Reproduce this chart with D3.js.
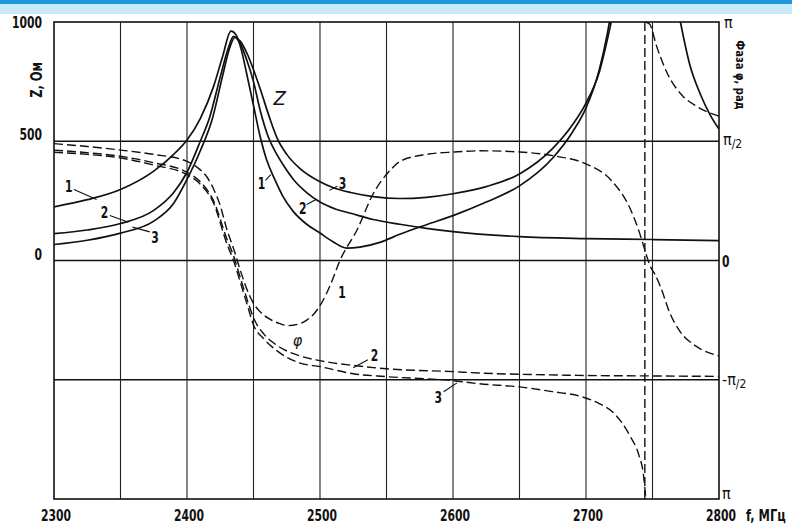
<!DOCTYPE html>
<html><head><meta charset="utf-8">
<script src="https://cdn.jsdelivr.net/npm/d3@7/dist/d3.min.js"></script>
<style>
body{margin:0;background:#fff;}
svg{display:block;}
text{font-family:"DejaVu Sans Condensed","DejaVu Sans",sans-serif;fill:#111;}
</style></head>
<body><svg id="c" width="792" height="525"></svg>
<script>
// ---------- data ----------
const freqTicks = [2300,2400,2500,2600,2700,2800];
const freqGrid = [2350,2400,2450,2500,2550,2600,2650,2700,2750];
const zTickLabels = [[1000,"1000"],[500,"500"],[0,"0"]];
// Z, Ohm  [f MHz, Z]
const z1 = [[2300,225],[2325,255],[2350,298],[2375,375],[2390,445],[2400,505],[2410,595],[2420,730],[2427,860],[2433,962],[2437,945],[2441,880],[2445,780],[2450,650],[2455,520],[2460,420],[2466,340],[2472,270],[2480,205],[2490,152],[2500,115],[2510,78],[2520,52],[2530,56],[2545,76],[2560,110],[2580,150],[2600,188],[2625,245],[2650,313],[2675,430],[2690,540],[2700,640],[2710,800],[2716,950],[2720,1080]];
const z2 = [[2300,113],[2325,128],[2350,155],[2375,210],[2390,285],[2400,370],[2410,500],[2417,600],[2425,770],[2431,890],[2435,940],[2440,910],[2445,840],[2450,750],[2455,630],[2461,520],[2467,450],[2473,395],[2480,340],[2490,285],[2500,245],[2512,215],[2523,198],[2540,172],[2560,152],[2580,135],[2600,121],[2650,100],[2700,92],[2750,88],[2800,83]];
const z3 = [[2300,67],[2325,85],[2350,115],[2375,165],[2390,240],[2400,340],[2410,460],[2419,593],[2427,780],[2432,890],[2436,935],[2440,920],[2445,870],[2450,800],[2455,720],[2462,600],[2468,510],[2475,445],[2485,385],[2500,330],[2510,305],[2523,285],[2540,268],[2560,260],[2580,265],[2600,280],[2625,310],[2650,363],[2675,470],[2690,570],[2700,660],[2710,790],[2717,950],[2722,1080]];
const zRightBranch = [[2766,1150],[2771,1000],[2778,822],[2786,697],[2793,614],[2800,551]];
// phase, in units of pi  [f MHz, phi/pi]
const p1 = [[2300,0.49],[2325,0.478],[2350,0.463],[2375,0.445],[2400,0.416],[2410,0.38],[2415,0.35],[2420,0.30],[2425,0.23],[2430,0.13],[2435,0.05],[2440,-0.04],[2445,-0.12],[2450,-0.18],[2455,-0.215],[2462,-0.245],[2470,-0.265],[2476,-0.273],[2483,-0.268],[2490,-0.25],[2496,-0.22],[2501,-0.18],[2508,-0.10],[2515,0.0],[2528,0.13],[2540,0.28],[2553,0.38],[2560,0.415],[2580,0.445],[2601,0.455],[2620,0.46],[2650,0.455],[2678,0.437],[2700,0.405],[2720,0.33],[2733,0.22],[2740,0.12],[2745,0.03],[2748,-0.02],[2752,-0.06],[2756,-0.11],[2763,-0.22],[2771,-0.30],[2783,-0.36],[2800,-0.40]];
const p2 = [[2300,0.463],[2325,0.452],[2350,0.437],[2375,0.41],[2400,0.37],[2410,0.33],[2420,0.25],[2430,0.09],[2435,0.02],[2440,-0.07],[2445,-0.16],[2450,-0.24],[2458,-0.31],[2468,-0.357],[2485,-0.40],[2500,-0.42],[2525,-0.44],[2550,-0.454],[2600,-0.466],[2620,-0.472],[2650,-0.477],[2700,-0.482],[2750,-0.484],[2800,-0.486]];
const p3a = [[2300,0.454],[2325,0.445],[2350,0.43],[2375,0.40],[2400,0.36],[2410,0.32],[2420,0.24],[2430,0.07],[2435,0.0],[2440,-0.09],[2445,-0.18],[2450,-0.27],[2458,-0.33],[2468,-0.38],[2485,-0.43],[2500,-0.445],[2525,-0.475],[2550,-0.487],[2600,-0.504],[2620,-0.517],[2650,-0.53],[2675,-0.55],[2696,-0.57],[2710,-0.60],[2720,-0.635],[2733,-0.735],[2740,-0.82],[2743,-0.89],[2745,-1.0]];
const p3b = [[2745,1.0],[2748,0.99],[2753,0.90],[2761,0.786],[2771,0.70],[2783,0.647],[2800,0.605]];
// annotations: [text, f, value, leader]
const zLabels = [["1",2311,311,[[2315,298],[2332,256]]],["2",2338,202,[[2342,189],[2356,160]]],["3",2376,96,[[2372,120],[2359,140]]],
                 ["1",2456,324,[[2459,336],[2463,360]]],["2",2487,218,[[2490,235],[2497,256]]],["3",2517,324,[[2513,311],[2507,294]]]];
const pLabels = [["1",2516.5,-0.134,null],["2",2541,-0.40,[[2536,-0.416],[2525,-0.45]]],["3",2589,-0.576,[[2593,-0.55],[2603,-0.513]]]];

// ---------- chart ----------
const svg = d3.select("#c");
const L=54,R=719,T=22,B=499;
const x = d3.scaleLinear().domain([2300,2800]).range([L,R]);
const yZ = d3.scaleLinear().domain([-1000,1000]).range([B,T]);
const yP = d3.scaleLinear().domain([-1,1]).range([B,T]);

// narrow, tall lettering like the drawing's stencil font
function txt(parent,px,py,str,o={}){
  const sx=o.sx||0.8;
  const t=parent.append("text").attr("transform",`translate(${px},${py}) scale(${sx},1)`)
    .attr("text-anchor",o.anchor||"start").attr("font-size",o.size||15)
    .attr("font-weight",o.weight||"bold");
  if(o.dy) t.attr("dy",o.dy);
  if(o.family) t.attr("font-family",o.family);
  if(o.style) t.attr("font-style",o.style);
  t.text(str);
  return t;
}

// top band
svg.append("rect").attr("x",0).attr("y",0).attr("width",792).attr("height",4).attr("fill","#1f98da");
svg.append("rect").attr("x",0).attr("y",4).attr("width",792).attr("height",10).attr("fill","#c8e9f8");

// grid
const g = svg.append("g");
g.selectAll(".vg").data(freqGrid).join("line")
  .attr("x1",d=>x(d)).attr("x2",d=>x(d)).attr("y1",T).attr("y2",B)
  .attr("stroke","#222").attr("stroke-width",1.1);
g.selectAll(".hg").data([0.5,0,-0.5]).join("line")
  .attr("x1",L).attr("x2",R).attr("y1",d=>yP(d)).attr("y2",d=>yP(d))
  .attr("stroke","#111").attr("stroke-width",1.4);
g.append("rect").attr("x",L).attr("y",T).attr("width",R-L).attr("height",B-T)
  .attr("fill","none").attr("stroke","#111").attr("stroke-width",1.6);

svg.append("clipPath").attr("id","clip").append("rect")
  .attr("x",L).attr("y",T).attr("width",R-L).attr("height",B-T);
const plot = svg.append("g").attr("clip-path","url(#clip)");

const lineZ = d3.line().x(d=>x(d[0])).y(d=>yZ(d[1])).curve(d3.curveMonotoneX);
const lineP = d3.line().x(d=>x(d[0])).y(d=>yP(d[1])).curve(d3.curveMonotoneX);

[z1,z2,z3,zRightBranch].forEach(s=>{
  plot.append("path").attr("d",lineZ(s)).attr("fill","none").attr("stroke","#111").attr("stroke-width",1.7);
});
[p1,p2,p3a,p3b].forEach(s=>{
  plot.append("path").attr("d",lineP(s)).attr("fill","none").attr("stroke","#111")
    .attr("stroke-width",1.4).attr("stroke-dasharray","9,4");
});
// wrap-around jump of phase 3
plot.append("line").attr("x1",x(p3a[p3a.length-1][0])-1).attr("x2",x(p3b[0][0])-1)
  .attr("y1",yP(p3a[p3a.length-1][1])).attr("y2",yP(p3b[0][1]))
  .attr("stroke","#111").attr("stroke-width",1.4).attr("stroke-dasharray","9,4");

// axis labels
const ax = svg.append("g");
zTickLabels.forEach(d=>txt(ax,42,yZ(d[0])+(d[0]===1000?6:-1),d[1],{anchor:"end"}));
freqTicks.forEach(d=>txt(ax,x(d)+2,521,String(d),{anchor:"middle"}));
txt(ax,746,521,"f, МГц",{sx:0.85});

svg.append("text").attr("transform","translate(42,80) rotate(-90) scale(0.85,1)").attr("text-anchor","middle")
  .attr("font-size",15).attr("font-weight","bold").text("Z, Ом");
svg.append("text").attr("transform","translate(736,75) rotate(90) scale(0.85,1)").attr("text-anchor","middle")
  .attr("font-size",13).attr("font-weight","bold").text("Фаза φ, рад");

// right phase labels
const pi = "π";
const rp = svg.append("g").attr("font-size",16).attr("font-family","DejaVu Serif");
rp.append("text").attr("x",724).attr("y",yP(1)+6).text(pi);
let t2 = rp.append("text").attr("x",723).attr("y",yP(0.5)+4);
t2.append("tspan").text(pi); t2.append("tspan").attr("font-size",12).attr("dy",3).text("/2");
txt(rp,722,yP(0)+6,"0",{family:"DejaVu Sans Condensed"});
let t3 = rp.append("text").attr("x",722).attr("y",yP(-0.5)+5);
t3.append("tspan").text("-"+pi); t3.append("tspan").attr("font-size",12).attr("dy",3).text("/2");
rp.append("text").attr("x",722).attr("y",yP(-1)).text(pi);

// curve annotations
const ann = svg.append("g");
function addLabel(d, ys){
  txt(ann,x(d[1]),ys(d[2]),d[0],{anchor:"middle",dy:"0.36em"});
  if(d[3]) ann.append("line").attr("x1",x(d[3][0][0])).attr("y1",ys(d[3][0][1]))
    .attr("x2",x(d[3][1][0])).attr("y2",ys(d[3][1][1])).attr("stroke","#111").attr("stroke-width",1.1);
}
zLabels.forEach(d=>addLabel(d,yZ));
pLabels.forEach(d=>addLabel(d,yP));
txt(ann,x(2465),yZ(651),"Z",{size:20,style:"italic",weight:"normal",family:"DejaVu Sans",sx:1});
txt(ann,x(2483),yP(-0.336),"φ",{size:16,style:"italic",weight:"normal",family:"DejaVu Serif",anchor:"middle",dy:"0.36em",sx:1});
</script></body></html>
